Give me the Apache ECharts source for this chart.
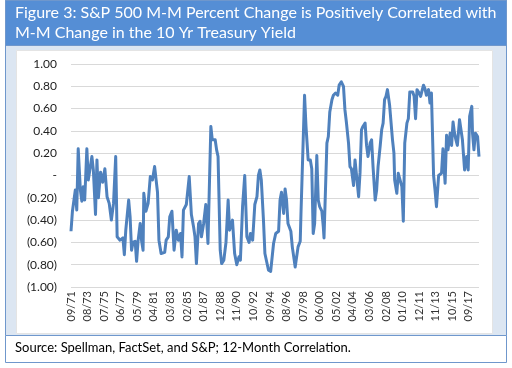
<!DOCTYPE html>
<html><head><meta charset="utf-8">
<script src="https://cdn.jsdelivr.net/npm/echarts@6/dist/echarts.min.js"></script>
<style>html,body{margin:0;padding:0;background:#fff}#c{width:512px;height:368px}</style>
</head><body><div id="c"></div>
<script>
var monthIdx = [0,2,4,6,8,10,13,15,17,19,22,24,29,31,34,36,38,41,44,47,50,53,56,59,62,64,68,72,74,76,80,82,84,86,89,91,93,96,98,100,101,104,107,110,113,116,118,120,122,125,130,132,135,137,140,143,146,149,152,154,156,160,162,164,167,170,172,174,177,179,181,184,187,190,194,196,200,202,204,207,209,212,215,218,220,224,227,230,233,235,238,241,244,247,249,252,255,258,260,262,264,267,269,271,274,277,281,284,288,290,292,295,297,299,301,305,307,309,311,313,315,318,319,321,324,326,328,329,332,334,336,338,341,343,345,348,350,351,355,357,359,362,364,367,370,372,375,378,380,382,385,387,389,392,394,396,399,401,403,405,408,410,412,415,417,419,422,424,426,429,431,433,435,437,439,442,443,446,448,449,452,454,456,459,461,463,466,468,470,474,476,478,480,483,485,489,491,493,496,498,500,503,505,507,510,512,514,516,519,521,523,526,528,530,532,534,536,539,541,543,546,549,551,553,556,557,559,561,564,566];
var corr = [-0.50,-0.32,-0.32,-0.13,-0.31,0.24,-0.13,-0.23,-0.10,-0.22,0.24,-0.04,0.17,0.05,-0.35,0.14,-0.20,0.03,-0.06,0.06,-0.19,-0.25,-0.40,-0.25,0.17,-0.55,-0.58,-0.56,-0.71,-0.49,-0.22,-0.37,-0.67,-0.60,-0.59,-0.77,-0.59,-0.43,-0.59,-0.67,-0.16,-0.32,-0.25,-0.01,-0.04,0.08,0.08,-0.15,-0.58,-0.70,-0.69,-0.58,-0.55,-0.37,-0.32,-0.67,-0.49,-0.58,-0.52,-0.73,-0.31,-0.26,-0.26,-0.01,-0.35,-0.46,-0.55,-0.79,-0.43,-0.41,-0.55,-0.43,-0.26,-0.61,0.44,0.32,0.32,0.23,0.17,-0.67,-0.79,-0.76,-0.60,-0.22,-0.49,-0.40,-0.70,-0.80,-0.73,-0.76,-0.28,0.00,-0.55,-0.60,-0.52,-0.58,-0.26,-0.19,0.00,0.05,-0.04,-0.40,-0.70,-0.76,-0.85,-0.86,-0.61,-0.52,-0.50,-0.22,-0.15,-0.34,-0.12,-0.22,-0.43,-0.50,-0.64,-0.73,-0.82,-0.82,-0.64,-0.59,-0.35,-0.34,0.72,0.44,0.44,0.14,0.14,0.06,-0.52,-0.43,0.18,-0.22,-0.28,-0.32,-0.46,-0.56,0.29,0.35,0.57,0.68,0.72,0.74,0.72,0.81,0.84,0.80,0.59,0.48,0.29,0.08,0.06,-0.09,0.14,0.15,-0.19,0.03,0.41,0.44,0.47,0.27,0.17,0.29,0.32,0.08,-0.22,-0.13,0.08,0.27,0.41,0.47,0.68,0.71,0.77,0.63,0.62,0.32,0.20,-0.04,-0.16,0.02,0.02,-0.10,-0.41,0.29,0.47,0.51,0.75,0.75,0.71,0.51,0.77,0.74,0.71,0.81,0.78,0.72,0.77,0.65,0.74,0.00,-0.13,-0.28,0.00,-0.01,0.02,0.24,-0.07,0.36,0.23,0.38,0.27,0.48,0.38,0.32,0.27,0.50,0.41,0.32,0.05,0.17,0.05,0.53,0.62,0.38,0.23,0.38,0.35,0.17];
var tickLabels = ['09/71','08/73','07/75','06/77','05/79','04/81','03/83','02/85','01/87','12/88','11/90','10/92','09/94','08/96','07/98','06/00','05/02','04/04','03/06','02/08','01/10','12/11','11/13','10/15','09/17'];
var yTickLabels = {'1':'1.00','0.8':'0.80','0.6':'0.60','0.4':'0.40','0.2':'0.20','0':'-','-0.2':'(0.20)','-0.4':'(0.40)','-0.6':'(0.60)','-0.8':'(0.80)','-1':'(1.00)'};
var titleLines = ['Figure 3: S&P 500 M-M Percent Change is Positively Correlated with','M-M Change in the 10 Yr Treasury Yield'];
var sourceText = 'Source: Spellman, FactSet, and S&P; 12-Month Correlation.';

var pts = monthIdx.map(function(m,i){return [m, corr[i]];});
var chart = echarts.init(document.getElementById('c'), null, {renderer:'canvas'});
var FONT = 'Lato, "Open Sans", sans-serif';
chart.setOption({
  animation:false,
  graphic:[
    {type:'rect', z:-10, shape:{x:5.5,y:0.5,width:501,height:335}, style:{fill:'#DCE6F2', stroke:'#6F97CC', lineWidth:1}},
    {type:'rect', z:-9, shape:{x:5.5,y:0.5,width:501,height:45}, style:{fill:'#558ED5', stroke:'#6F97CC', lineWidth:1}},
    {type:'rect', z:-8, shape:{x:16.5,y:50.5,width:476,height:283}, style:{fill:'#FFFFFF', stroke:'#E4E4E4', lineWidth:1}},
    {type:'rect', z:-9, shape:{x:5.5,y:335.5,width:501,height:27}, style:{fill:'#FFFFFF', stroke:'#6F97CC', lineWidth:1}},
    {type:'text', left:15, top:5, style:{text:titleLines[0], fill:'#FFFFFF', font:'16px '+FONT}},
    {type:'text', left:15, top:25, style:{text:titleLines[1], fill:'#FFFFFF', font:'16px '+FONT}},
    {type:'text', left:15, top:341, style:{text:sourceText, fill:'#000000', font:'13px '+FONT}}
  ],
  grid:{left:71, right:33, top:64, height:223, containLabel:false},
  xAxis:{type:'value', min:0, max:566, interval:23,
    axisLine:{show:false}, axisTick:{show:false}, splitLine:{show:false},
    axisLabel:{rotate:90, margin:4, fontSize:11, color:'#333', fontFamily:FONT, showMaxLabel:false,
      formatter:function(v){ if(v%23!==0) return ''; var k=v/23; return tickLabels[k]||''; }}},
  yAxis:{type:'value', min:-1, max:1, interval:0.2,
    axisLine:{show:false}, axisTick:{show:false},
    splitLine:{lineStyle:{color:'#D9D9D9', width:1}},
    axisLabel:{margin:14, fontSize:12, color:'#222', fontFamily:FONT,
      formatter:function(v){ var k=String(Math.round(v*10)/10); return yTickLabels[k]!==undefined?yTickLabels[k]:''; }}},
  series:[{type:'line', data:pts, showSymbol:false, symbol:'none',
    lineStyle:{color:'#4F81BD', width:3, join:'round'}}]
});
</script></body></html>
